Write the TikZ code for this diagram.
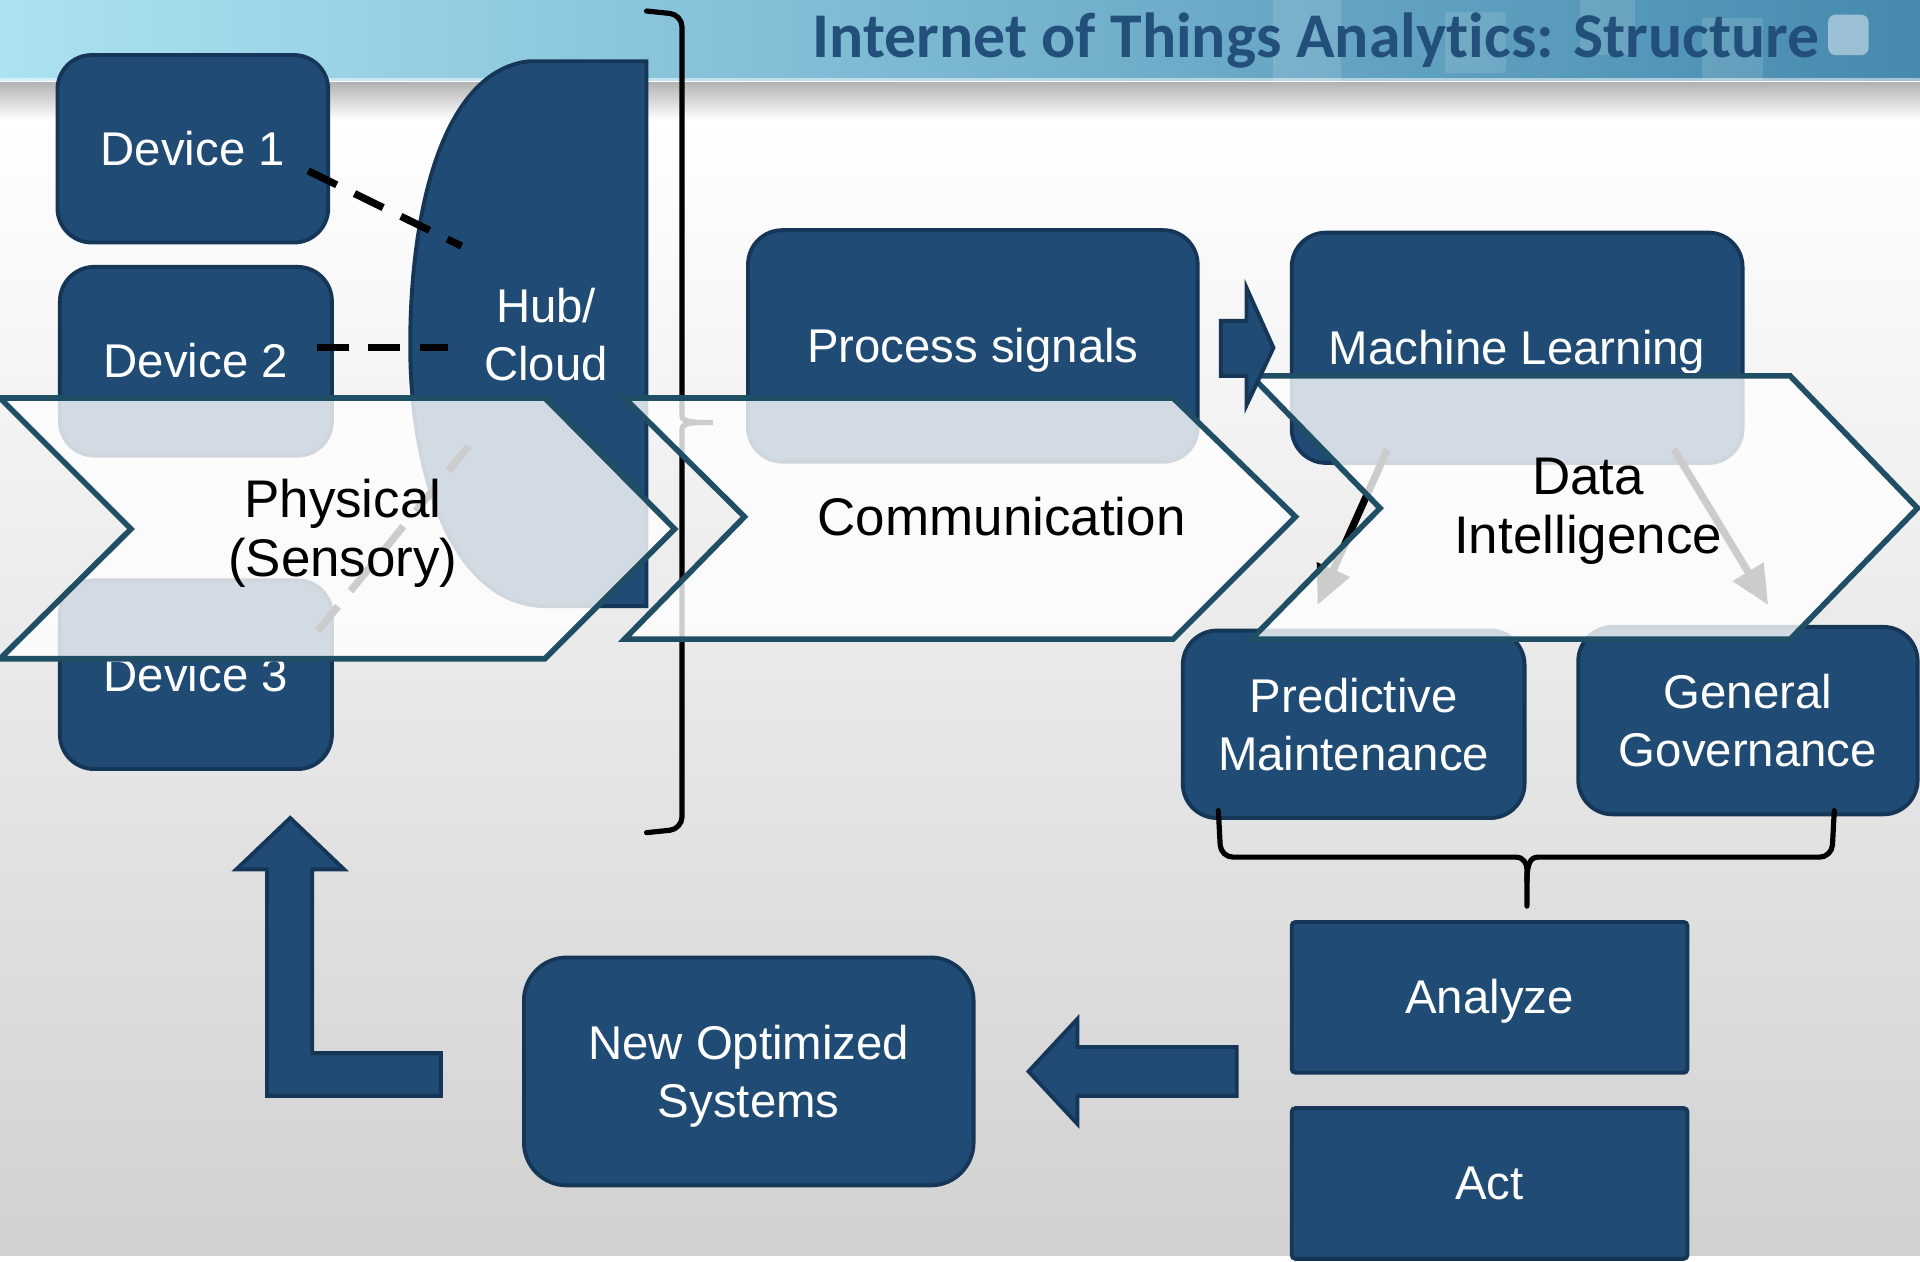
\documentclass[tikz,border=0pt]{standalone}
\usepackage{fontspec}
\setmainfont{Liberation Sans}
\newfontfamily\titlefont{Carlito}[Ligatures=NoCommon]
\usetikzlibrary{arrows.meta,scopes}
\definecolor{boxblue}{RGB}{31,75,116}
\definecolor{boxedge}{RGB}{22,54,88}
\definecolor{chevedge}{RGB}{32,78,100}
\definecolor{titleblue}{RGB}{35,80,122}
\definecolor{bannerl}{RGB}{172,226,242}
\definecolor{bannerr}{RGB}{70,138,174}
\newcommand\pptstrut{\rule[-0.212em]{0pt}{1.117em}}
\newcommand\nodepth[1]{\raisebox{0pt}[\height][0pt]{#1}}
\begin{document}
\begin{tikzpicture}[x=0.01cm,y=-0.01cm,
    oneline/.style={execute at begin node=\pptstrut,execute at end node=\pptstrut},
    box/.style={draw=boxedge,fill=boxblue,line width=0.9pt,rounded corners=0.28cm,align=center,
        text=white,inner sep=0pt,font=\fontsize{11}{13.4}\selectfont},
    sqbox/.style={box,oneline,rounded corners=0.03cm},
    blockarrow/.style={draw=boxedge,fill=boxblue,line width=0.9pt},
    chev/.style={draw=chevedge,line width=1.3pt,fill=white,fill opacity=0.8},
    chevtext/.style={align=center,text=black,font=\fontsize{12.3}{13.7}\selectfont},
    link/.style={line width=1.7pt,dash pattern=on 7.4pt off 4.6pt},
    flow/.style={line width=1.7pt,-{Triangle[length=9pt,width=8pt]}},
    brace/.style={line width=1.2pt,line cap=round,rounded corners=0.1cm},
]
\useasboundingbox (0,0) rectangle (1568,1030);
% background
\fill[white] (0,0) rectangle (1568,1030);
\shade[top color=white,bottom color=black!18] (0,98) rectangle (1568,1025); % body
\shade[top color=black!30,bottom color=white] (0,67) rectangle (1568,98); % shadow
\shade[left color=bannerl,right color=bannerr] (0,0) rectangle (1568,66); % banner
\fill[white,opacity=0.5] (0,64) rectangle (1568,67);
{[white,opacity=0.12]
\fill (1040,0) rectangle (1095,66);
\fill (1180,10) rectangle (1230,60);
\fill (1290,0) rectangle (1335,45);
\fill (1390,15) rectangle (1440,66);
\fill[rounded corners=0.06cm,opacity=0.45] (1493,12) rectangle (1526,45);
}
\node[font=\titlefont\bfseries\fontsize{14.8}{16}\selectfont,text=titleblue,anchor=base west,inner sep=0pt]
    (title) at (663,47) {Internet of Things Analytics: Structure};

% physical layer
\node[box,oneline,minimum width=2.21cm,minimum height=1.53cm] (dev1) at (157.5,121.5) {Device 1};
\node[box,oneline,minimum width=2.22cm,minimum height=1.54cm] (dev2) at (160,295) {Device 2};
\node[box,oneline,minimum width=2.22cm,minimum height=1.54cm] (dev3) at (160,551) {Device 3};
\draw[blockarrow] (528,50) -- (432,50) .. controls (362,58) and (335,170) .. (335,282)
    .. controls (335,392) and (372,495) .. (446,495) -- (528,495) -- cycle; % hub
\node[align=center,text=white,font=\fontsize{11}{13.4}\selectfont] (hub) at (446,273) {Hub/\\Cloud};
\coordinate (h1) at (377,201);
\coordinate (h2) at (366,284);
\coordinate (h3) at (383,364);
\draw[link] ([shift={(-18,18)}]dev1.east) -- (h1);
\draw[link] ([shift={(-14,-11)}]dev2.east) -- (h2);
\draw[link] ([shift={(-13,43)}]dev3.north east) -- (h3);
\draw[brace] (528,9) -- (557,12) -- (557,330) .. controls (557,345) and (570,345) .. (588,345)
    .. controls (570,345) and (557,345) .. (557,360) -- (557,677) -- (528,680); % big brace

% communication and intelligence
\node[box,oneline,minimum width=3.67cm,minimum height=1.89cm] (proc) at (794.5,282.5) {Process signals};
\node[box,oneline,minimum width=3.68cm,minimum height=1.88cm] (ml) at (1239,284) {Machine Learning};
\node[box,minimum width=2.79cm,minimum height=1.53cm] (pm) at (1105.5,591.5) {Predictive\\Maintenance};
\node[box,minimum width=2.77cm,minimum height=1.53cm] (gg) at (1427.5,588.5) {General\\Governance};
\coordinate (mlL) at (1133,367);
\coordinate (mlR) at (1367,367);
\coordinate (pmT) at (1076,494);
\coordinate (ggT) at (1444,494);
\draw[flow] (mlL) -- (pmT);
\draw[flow] (mlR) -- (ggT);
\draw[brace] (995,662) -- (997,700) -- (1228,700) .. controls (1244,700) and (1247,705) .. (1247,720)
    -- (1247,740); % lower brace
\draw[brace] (1498,662) -- (1496,700) -- (1266,700) .. controls (1250,700) and (1247,705) .. (1247,720);

% chevrons
\draw[chev] (0,325) -- (445,325) -- (551,432) -- (445,538) -- (0,538) -- (107,432) -- cycle;
\draw[chev] (510,325) -- (958,325) -- (1058,422) -- (958,522) -- (510,522) -- (608,422) -- cycle;
\draw[chev] (1022,307) -- (1462,307) -- (1566,415) -- (1462,522) -- (1022,522) -- (1127,415) -- cycle;
\node[chevtext] (phys) at (280,431) {Physical\\\nodepth{(Sensory)}};
\node[chevtext,oneline] (comm) at (818,422) {Communication};
\node[chevtext] (di) at (1297,413) {Data\\\nodepth{Intelligence}};
\draw[blockarrow] (997,262) -- (1018,262) -- (1018,235) -- (1040,284) -- (1018,331)
    -- (1018,307) -- (997,307) -- cycle; % to ML

% action loop
\node[sqbox,minimum width=3.23cm,minimum height=1.23cm] (ana) at (1216.5,814.5) {Analyze};
\node[sqbox,minimum width=3.23cm,minimum height=1.23cm] (act) at (1216.5,966.5) {Act};
\node[box,rounded corners=0.35cm,minimum width=3.67cm,minimum height=1.86cm] (nos) at (611.5,875) {New Optimized\\\nodepth{Systems}};
\draw[blockarrow] (1010,855) -- (880,855) -- (880,832) -- (840,875) -- (880,918)
    -- (880,895) -- (1010,895) -- cycle; % back
\draw[blockarrow] (360,860) -- (255,860) -- (255,710) -- (281,710) -- (237,668) -- (193,710)
    -- (218,710) -- (218,895) -- (360,895) -- cycle; % up
\end{tikzpicture}
\end{document}
